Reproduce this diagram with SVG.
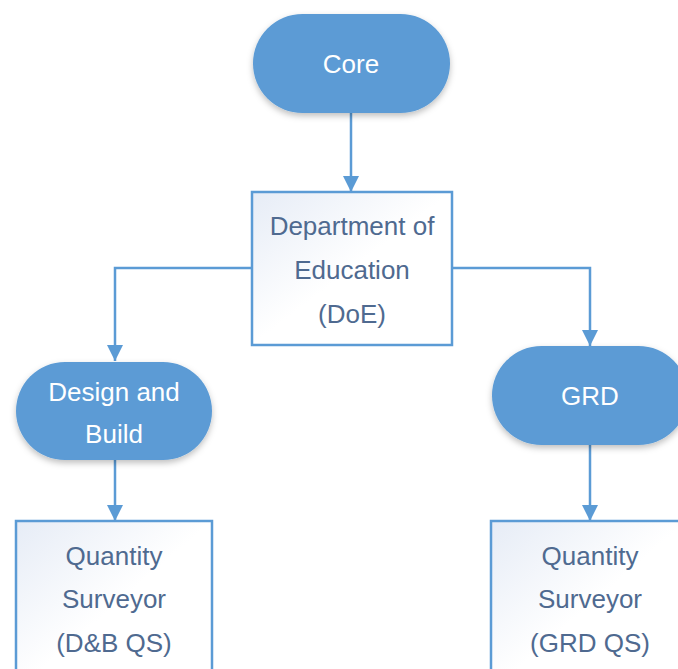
<svg xmlns="http://www.w3.org/2000/svg" width="678" height="669" viewBox="0 0 678 669">
<defs>
<style>
.pill{fill:#5B9BD5;filter:url(#sh)}
.box{fill:url(#g);stroke:#5B9BD5;stroke-width:2.5}
.wt{fill:#FFFFFF;font-family:"Liberation Sans",Arial,sans-serif;font-size:26px;text-anchor:middle}
.bt{fill:#4F6A90;font-family:"Liberation Sans",Arial,sans-serif;font-size:26px;text-anchor:middle}
.con{fill:none;stroke:#5B9BD5;stroke-width:2.5;marker-end:url(#ah)}
</style>
<linearGradient id="g" x1="0" y1="0" x2="1" y2="1">
<stop offset="0" stop-color="#E6ECF6"/>
<stop offset="0.5" stop-color="#FFFFFF"/>
<stop offset="1" stop-color="#FFFFFF"/>
</linearGradient>
<filter id="sh" x="-20%" y="-20%" width="140%" height="150%">
<feDropShadow dx="0" dy="3" stdDeviation="3" flood-color="#000000" flood-opacity="0.25"/>
</filter>
<marker id="ah" viewBox="0 0 10 10" refX="10" refY="5" markerWidth="6.5" markerHeight="6.5" markerUnits="strokeWidth" orient="auto">
<path d="M0,0 L10,5 L0,10 Z" fill="#5B9BD5"/>
</marker>
</defs>
<g id="connectors">
<path class="con" d="M351,113 V192"/>
<path class="con" d="M252,268 H115 V361"/>
<path class="con" d="M452,268 H590 V346"/>
<path class="con" d="M115,460 V521"/>
<path class="con" d="M590,445 V521"/>
</g>
<g id="core">
<rect class="pill" x="253" y="14" width="197" height="99" rx="49.5"/>
<text class="wt" x="351" y="73">Core</text>
</g>
<g id="doe">
<rect class="box" x="252" y="192" width="200" height="153"/>
<text class="bt" x="352" y="235">Department of</text>
<text class="bt" x="352" y="279">Education</text>
<text class="bt" x="352" y="323">(DoE)</text>
</g>
<g id="design-build">
<rect class="pill" x="16" y="362" width="196" height="98" rx="49"/>
<text class="wt" x="114" y="401">Design and</text>
<text class="wt" x="114" y="443">Build</text>
</g>
<g id="grd">
<rect class="pill" x="492" y="346" width="196" height="99" rx="49.5"/>
<text class="wt" x="590" y="405">GRD</text>
</g>
<g id="qs-db">
<rect class="box" x="16" y="521" width="196" height="170"/>
<text class="bt" x="114" y="565">Quantity</text>
<text class="bt" x="114" y="608">Surveyor</text>
<text class="bt" x="114" y="652">(D&amp;B QS)</text>
</g>
<g id="qs-grd">
<rect class="box" x="491" y="521" width="196" height="170"/>
<text class="bt" x="590" y="565">Quantity</text>
<text class="bt" x="590" y="608">Surveyor</text>
<text class="bt" x="590" y="652">(GRD QS)</text>
</g>
</svg>
